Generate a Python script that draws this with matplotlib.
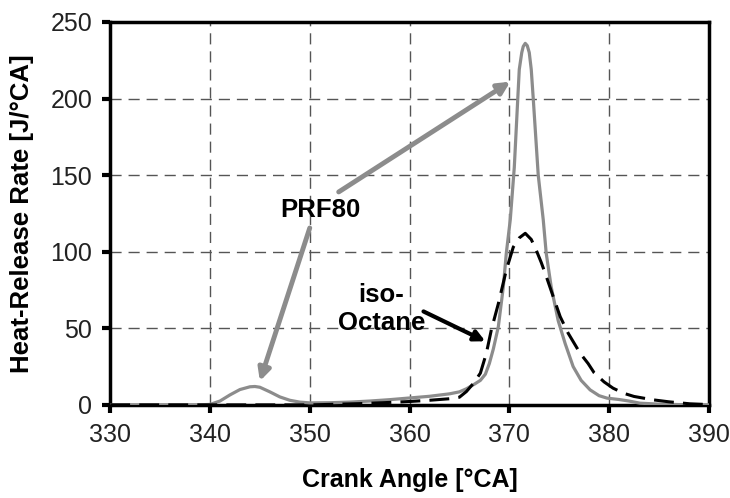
import matplotlib.pyplot as plt

plt.rcParams['font.family'] = ['Liberation Sans', 'DejaVu Sans']

# PRF80 heat-release rate (solid gray)
prf_ca = [330, 339, 340, 341, 342, 343, 344, 344.5, 345, 346, 347, 348, 349, 350,
          352, 354, 356, 358, 360, 362, 364, 365, 365.7, 366.5, 367.1, 367.6, 368.0,
          368.4, 368.9, 369.4, 369.7, 370.1, 370.5, 370.85, 371.0, 371.25, 371.4,
          371.6, 371.8, 372.0, 372.2, 372.4, 372.9, 373.4, 373.7, 374.2, 374.9,
          375.6, 376.4, 377.2, 378.1, 379.0, 379.8, 381, 382, 383.1, 385, 387, 390]
prf_hrr = [0, 0, 0.3, 2.5, 6.5, 10, 11.8, 12, 11.5, 8.5, 5.2, 3, 1.8, 1.3,
           1.4, 1.8, 2.5, 3.4, 4.5, 5.6, 7.2, 8.5, 10.5, 13.5, 16, 20, 27,
           36.5, 51, 77, 99, 121, 155, 200, 219, 230, 234,
           236, 234.5, 230, 219, 200, 150, 121, 99, 77, 55,
           40, 25, 16, 9.8, 6, 4.4, 3.5, 2.5, 1.1, 0.5, 0.2, 0]

# iso-Octane heat-release rate (dashed black)
iso_ca = [330, 350, 352, 355, 358, 360, 362, 364, 365, 365.7, 366.4, 367.1, 367.7,
          368.2, 368.9, 369.7, 370.4, 371.0, 371.6, 372.2, 372.7, 373.2, 373.7,
          374.4, 375.1, 375.9, 377.1, 377.9, 378.5, 379.5, 380.4, 381.5, 382.5,
          384.4, 386, 388.1, 390]
iso_hrr = [0, 0, 0.3, 0.8, 1.6, 2.2, 3, 4, 5, 8.7, 14, 20.7, 33.7,
           49, 66, 88, 103, 109, 112, 108, 101, 93, 84,
           70.7, 57.6, 46.8, 33.7, 27, 21, 15, 10.9, 7.5, 5.5,
           3.3, 2, 0.7, 0.2]

x_ticks = [330, 340, 350, 360, 370, 380, 390]
y_ticks = [0, 50, 100, 150, 200, 250]

fig = plt.figure(figsize=(7.3, 4.98), dpi=100)
ax = fig.add_axes([0.151, 0.187, 0.820, 0.769])

ax.plot(prf_ca, prf_hrr, color='#8c8c8c', lw=2.3, zorder=3)
ax.plot(iso_ca, iso_hrr, color='black', lw=2.2, dashes=(6.5, 3), zorder=4)

ax.set_xlim(330, 390)
ax.set_ylim(0, 250)
ax.set_xticks(x_ticks)
ax.set_yticks(y_ticks)
ax.grid(True, color='#555555', lw=1, linestyle=(0, (8, 5)))
ax.set_axisbelow(True)

for spine in ax.spines.values():
    spine.set_linewidth(2.5)
    spine.set_color('black')
ax.tick_params(direction='out', length=6, width=3, labelsize=18, colors='black',
               labelcolor='#222222', pad=7)

ax.set_xlabel('Crank Angle [°CA]', fontsize=18, fontweight='bold', labelpad=15)
ax.set_ylabel('Heat-Release Rate [J/°CA]', fontsize=18.5, fontweight='bold', labelpad=12)

# annotations
gray_arrow = dict(arrowstyle='-|>', color='#8c8c8c', lw=3.5, mutation_scale=18,
                  shrinkA=0, shrinkB=0)
ax.annotate('', xy=(370.1, 211), xytext=(352.9, 139), arrowprops=gray_arrow, zorder=5)
ax.annotate('', xy=(345.0, 15.5), xytext=(350.0, 115.5), arrowprops=gray_arrow, zorder=5)
ax.text(351.1, 127.3, 'PRF80', fontsize=18.5, fontweight='bold', ha='center', va='center',
        zorder=6)

ax.annotate('', xy=(367.6, 41.5), xytext=(361.4, 61),
            arrowprops=dict(arrowstyle='-|>', color='black', lw=3, mutation_scale=16,
                            shrinkA=0, shrinkB=0), zorder=5)
ax.text(357.2, 62.5, 'iso-\nOctane', fontsize=18.5, fontweight='bold', ha='center',
        va='center', multialignment='center', linespacing=1.2, zorder=6)

fig.savefig('out.png', dpi=100)
